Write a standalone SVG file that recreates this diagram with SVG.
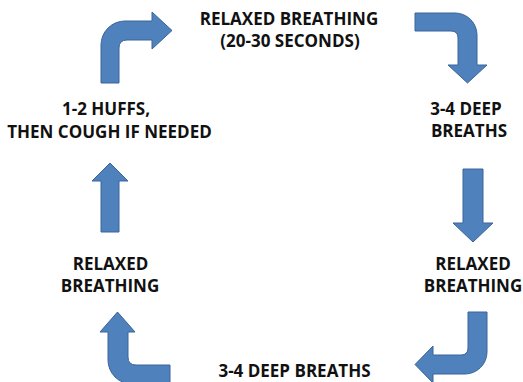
<svg xmlns="http://www.w3.org/2000/svg" width="523" height="382" viewBox="0 0 523 382">
<style>
.arrow{fill:#4F81BD;stroke:#3A659A;stroke-width:1;stroke-linejoin:miter}
.lbl{font-family:"Open Sans","Liberation Sans",sans-serif;font-weight:700;font-size:17px;fill:#111;text-anchor:middle}
</style>
<rect width="523" height="382" fill="#fff"/>
<g id="connectors">
<path class="arrow" d="M101,83 L101,45 A24,24 0 0 1 125,21 L152,21 L152,12 L172,30.5 L152,49 L152,40 L127,40 Q119,40 119,48 L119,83 Z"/>
<path class="arrow" d="M415,13 L455,13 A22,22 0 0 1 477,35 L477,65 L487,65 L467.5,83 L448,65 L458,65 L458,38 Q458,31 451,31 L415,31 Z"/>
<path class="arrow" d="M463,169 L483,169 L483,223 L493,223 L473,242 L453,223 L463,223 Z"/>
<path class="arrow" d="M468,312 L487,312 L487,352 A22,22 0 0 1 465,374 L433,374 L433,383 L415,364.5 L433,346 L433,355 L461,355 Q468,355 468,348 Z"/>
<path class="arrow" d="M128,332 L135,332 L117.5,312 L100,332 L108,332 L108,360 A24,24 0 0 0 132,384 L170,384 L170,365 L136,365 Q128,365 128,357 Z"/>
<path class="arrow" d="M101,232 L101,181 L92,181 L110,163 L128,181 L119,181 L119,232 Z"/>
</g>
<g id="node-top">
<text class="lbl" x="289" y="25">RELAXED BREATHING</text>
<text class="lbl" x="290" y="47">(20-30 SECONDS)</text>
</g>
<g id="node-right-top">
<text class="lbl" x="466" y="115">3-4 DEEP</text>
<text class="lbl" x="469" y="137">BREATHS</text>
</g>
<g id="node-right-bottom">
<text class="lbl" x="473" y="270">RELAXED</text>
<text class="lbl" x="473" y="292">BREATHING</text>
</g>
<g id="node-bottom">
<text class="lbl" x="294.5" y="377">3-4 DEEP BREATHS</text>
</g>
<g id="node-left-bottom">
<text class="lbl" x="110.5" y="270">RELAXED</text>
<text class="lbl" x="110" y="292">BREATHING</text>
</g>
<g id="node-left-top">
<text class="lbl" x="106" y="115">1-2 HUFFS,</text>
<text class="lbl" x="109.5" y="138">THEN COUGH IF NEEDED</text>
</g>
</svg>
